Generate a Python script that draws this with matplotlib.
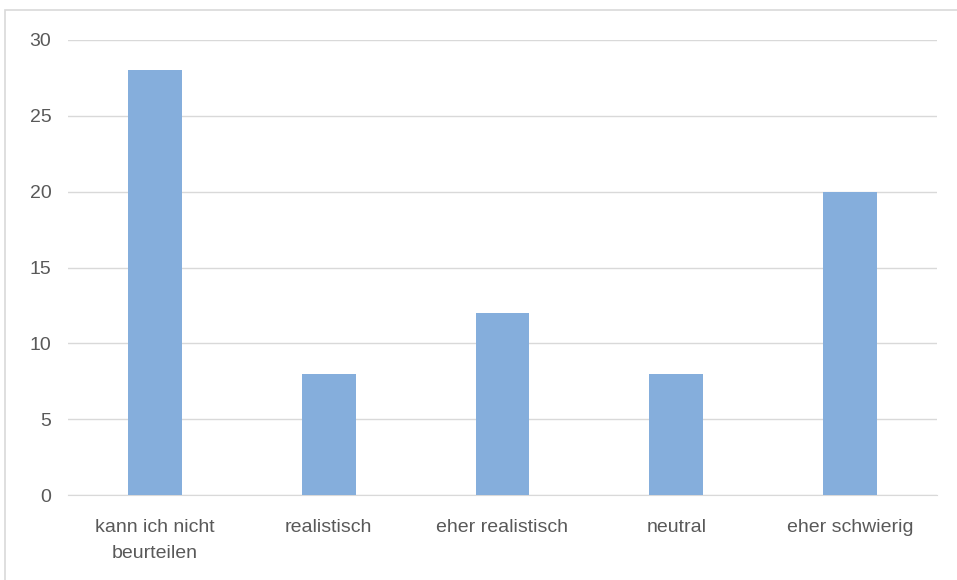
import matplotlib.pyplot as plt
from matplotlib.patches import Rectangle

categories = ["kann ich nicht\nbeurteilen", "realistisch", "eher realistisch", "neutral", "eher schwierig"]
values = [28, 8, 12, 8, 20]
y_ticks = [0, 5, 10, 15, 20, 25, 30]

plt.rcParams['font.family'] = ['Liberation Sans', 'DejaVu Sans']

fig = plt.figure(figsize=(9.57, 5.8), dpi=100)
ax = fig.add_axes([68 / 957, 85 / 580, 869 / 957, 455 / 580])

x = range(len(categories))
ax.bar(x, values, width=0.31, color="#85AEDC", zorder=3)

ax.set_xlim(-0.5, len(categories) - 0.5)
ax.set_ylim(0, 30)
ax.set_yticks(y_ticks)
ax.set_xticks(list(x))
ax.set_xticklabels(categories, fontsize=14, color="#595959", linespacing=1.75)
ax.tick_params(axis='y', labelsize=14, labelcolor="#595959", length=0, pad=12)
ax.tick_params(axis='x', length=0, pad=17)
ax.grid(axis='y', color="#D9D9D9", linewidth=1, zorder=0)
for s in ["top", "right", "left"]:
    ax.spines[s].set_visible(False)
ax.spines["bottom"].set_color("#D9D9D9")

fig.patches.append(Rectangle((5 / 957, -0.05), 1.0, 1.05 - 10 / 580, transform=fig.transFigure,
                             fill=False, edgecolor="#D9D9D9", linewidth=1.2))

fig.savefig("out.png", dpi=100)
